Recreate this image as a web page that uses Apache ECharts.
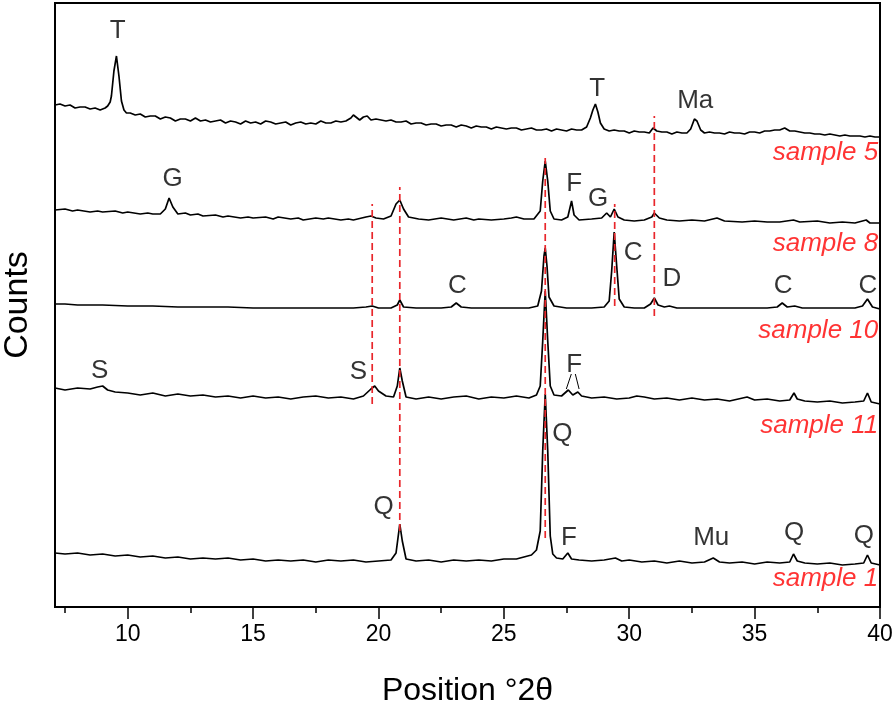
<!DOCTYPE html>
<html><head><meta charset="utf-8">
<script src="https://cdn.jsdelivr.net/npm/echarts@6/dist/echarts.min.js"></script>
<style>html,body{margin:0;padding:0;background:#fff}#c{width:896px;height:707px}</style>
</head><body><div id="c"></div>
<script>
// 2θ (degrees), offset counts (arbitrary units, stacked patterns)
const sample5 = [[7.1,502],[7.3,503],[7.5,501],[7.7,502],[7.9,499],[8.1,500],[8.3,500],[8.5,498],[8.7,499],[8.9,497],[9.1,499],[9.2,501],[9.3,505],[9.35,511],[9.45,536],[9.55,551],[9.65,531],[9.75,506],[9.85,497],[9.95,494],[10.1,494],[10.3,492],[10.5,493],[10.7,490],[10.9,491],[11.1,491],[11.3,488],[11.5,490],[11.7,489],[11.9,486],[12.1,488],[12.3,488],[12.5,486],[12.7,489],[12.9,486],[13.1,487],[13.3,485],[13.5,486],[13.7,487],[13.9,484],[14.1,486],[14.3,485],[14.5,483],[14.7,486],[14.9,484],[15.1,485],[15.3,483],[15.5,486],[15.7,485],[15.9,483],[16.1,484],[16.3,485],[16.5,482],[16.7,484],[16.9,485],[17.1,483],[17.3,484],[17.5,483],[17.7,486],[17.9,484],[18.1,484],[18.3,486],[18.5,485],[18.7,486],[18.9,489],[19.0,492],[19.1,490],[19.25,487],[19.4,490],[19.55,491],[19.7,487],[19.9,488],[20.1,487],[20.3,486],[20.5,487],[20.7,485],[20.9,485],[21.1,486],[21.3,483],[21.5,484],[21.7,484],[21.9,482],[22.1,483],[22.3,483],[22.5,481],[22.7,482],[22.9,482],[23.1,480],[23.3,482],[23.5,481],[23.7,479],[23.9,481],[24.1,480],[24.3,480],[24.5,478],[24.7,480],[24.9,479],[25.1,478],[25.3,479],[25.5,479],[25.7,477],[25.9,478],[26.1,479],[26.3,477],[26.5,477],[26.7,478],[26.9,476],[27.1,478],[27.3,477],[27.5,476],[27.7,478],[27.9,477],[28.1,477],[28.3,480],[28.45,489],[28.55,497],[28.65,503],[28.75,495],[28.85,484],[29.0,478],[29.2,476],[29.4,477],[29.6,476],[29.8,476],[30.0,474],[30.2,476],[30.4,475],[30.6,475],[30.8,474],[30.95,479],[31.1,476],[31.3,475],[31.5,475],[31.7,473],[31.9,475],[32.1,474],[32.3,474],[32.45,478],[32.6,488],[32.7,486],[32.85,477],[33.0,474],[33.2,475],[33.4,474],[33.6,474],[33.8,473],[34.0,475],[34.2,474],[34.4,474],[34.6,473],[34.8,475],[35.0,475],[35.2,474],[35.4,476],[35.6,476],[35.8,477],[36.0,477],[36.2,479],[36.4,476],[36.6,476],[36.8,475],[37.0,474],[37.2,474],[37.4,473],[37.6,473],[37.8,472],[38.0,473],[38.2,472],[38.4,471],[38.6,472],[38.8,471],[39.0,471],[39.2,471],[39.4,470],[39.6,471],[39.8,470],[40.0,470]];
const sample8 = [[7.1,397],[7.5,398],[7.8,396],[8,397],[8.5,395],[8.8,396],[9,395],[9.5,396],[9.8,394],[10,395],[10.5,393],[10.8,394],[11,393],[11.3,393],[11.5,398],[11.65,409],[11.8,400],[12,393],[12.3,394],[12.5,392],[12.8,393],[13,391],[13.5,392],[13.8,390],[14,391],[14.5,389],[14.8,390],[15,389],[15.5,390],[15.8,388],[16,390],[16.5,388],[16.8,389],[17,387],[17.5,389],[17.8,388],[18,389],[18.5,387],[18.8,388],[19,387],[19.5,390],[19.7,391],[19.9,389],[20.2,388],[20.5,391],[20.7,403],[20.85,407],[21.0,398],[21.2,390],[21.6,388],[22,387],[22.5,389],[23,387],[23.5,389],[23.8,387],[24,388],[24.5,387],[25,388],[25.3,389],[25.5,390],[25.8,388],[26.2,388],[26.45,396],[26.55,426],[26.65,446],[26.75,426],[26.85,396],[27.0,388],[27.3,387],[27.55,390],[27.7,406],[27.8,392],[28,387],[28.5,388],[28.9,389],[29.1,394],[29.25,390],[29.4,398],[29.55,390],[29.8,387],[30.2,386],[30.6,387],[30.9,390],[31.0,394],[31.2,389],[31.5,387],[32,386],[32.5,387],[33,386],[33.5,389],[33.8,386],[34.5,385],[35,386],[35.5,385],[36,385],[36.55,387],[36.8,385],[37.5,386],[38,384],[38.5,385],[39,384],[39.45,387],[39.6,384],[40,384]];
const sample10 = [[7.1,303],[7.5,303],[8,302],[9,302],[10,301],[11,301],[12,300],[13,300],[14,300],[15,299],[16,299],[17,299],[18,299],[19,299],[19.5,300],[19.75,301],[20,299],[20.5,299],[20.75,302],[20.85,307],[21.0,300],[21.5,299],[22,299],[22.5,299],[22.9,300],[23.1,304],[23.3,300],[23.7,299],[24.5,299],[25,299],[25.5,299],[26,299],[26.35,301],[26.5,316],[26.6,351],[26.65,359],[26.72,341],[26.8,310],[27.0,301],[27.5,299],[28,299],[28.5,299],[29,300],[29.2,306],[29.3,336],[29.4,375],[29.5,341],[29.6,308],[29.8,300],[30.2,299],[30.6,299],[30.85,303],[31.0,309],[31.15,302],[31.4,300],[31.6,301],[31.9,299],[32.5,299],[33,299],[33.5,299],[34,299],[34.5,299],[35,299],[35.5,299],[35.9,300],[36.1,304],[36.3,300],[36.6,301],[36.9,299],[37.5,299],[38,299],[38.5,299],[39,299],[39.3,301],[39.5,308],[39.7,300],[40,298]];
const sample11 = [[7.1,219],[7.5,217],[8,219],[8.5,218],[8.8,220],[9.0,221],[9.2,217],[9.5,215],[10,214],[10.5,212],[11,214],[11.5,211],[12,213],[12.5,211],[13,212],[13.5,210],[14,211],[14.5,209],[15,211],[15.5,209],[16,210],[16.5,208],[17,210],[17.5,211],[18,209],[18.5,210],[19,208],[19.4,211],[19.7,218],[19.85,221],[20.0,216],[20.3,211],[20.6,210],[20.75,221],[20.85,239],[20.95,226],[21.1,210],[21.5,208],[22,210],[22.5,208],[23,210],[23.5,211],[24,208],[24.5,210],[25,209],[25.5,211],[26,209],[26.3,212],[26.45,221],[26.55,266],[26.65,316],[26.75,266],[26.85,221],[27.0,212],[27.3,211],[27.57,217],[27.75,212],[27.95,215],[28.1,211],[28.5,209],[29,210],[29.5,208],[30,209],[30.3,211],[30.6,210],[31,208],[31.5,209],[32,207],[32.5,209],[33,207],[33.5,208],[34,206],[34.7,210],[35,207],[35.5,208],[36,206],[36.4,207],[36.57,214],[36.7,208],[37,206],[37.5,205],[38,206],[38.5,204],[39,205],[39.35,206],[39.5,214],[39.65,205],[40,203]];
const sample1 = [[7.1,54],[7.5,53],[8,54],[8.5,52],[9,53],[9.5,51],[10,52],[10.5,50],[11,51],[11.5,49],[12,50],[12.5,48],[13,49],[13.5,48],[14,49],[14.5,47],[15,48],[15.5,46],[16,47],[16.5,46],[17,47],[17.5,45],[18,47],[18.5,46],[19,47],[19.5,45],[20,46],[20.5,47],[20.7,54],[20.85,83],[20.95,66],[21.1,48],[21.5,46],[22,47],[22.5,45],[23,47],[23.5,46],[24,47],[24.5,46],[25,48],[25.5,48],[25.8,50],[26.1,52],[26.3,57],[26.45,76],[26.55,156],[26.65,213],[26.75,156],[26.85,71],[26.95,53],[27.1,49],[27.35,48],[27.55,54],[27.7,48],[28,47],[28.5,46],[29,47],[29.45,49],[29.7,46],[30,47],[30.5,45],[31,46],[31.5,44],[32,46],[32.5,44],[33,45],[33.35,49],[33.6,45],[34,44],[34.5,45],[35,43],[35.5,45],[36,44],[36.4,45],[36.55,53],[36.7,46],[37,44],[37.5,43],[38,44],[38.5,42],[39,43],[39.35,44],[39.5,52],[39.65,44],[40,42]];

const sampleNames = ['sample 5','sample 8','sample 10','sample 11','sample 1'];
const sampleLabelY = [454, 363, 276, 181, 28];

const peakLabelText = ['T','T','Ma','G','F','G','C','D','C','C','C','S','S','F','Q','Q','F','Mu','Q','Q'];
const peakLabelX = [9.6,28.72,32.63,11.79,27.8,28.76,30.16,31.7,23.15,36.14,39.52,8.88,19.2,27.8,27.33,20.2,27.6,33.27,36.57,39.36];
const peakLabelY = [576,518,506,428,423,408,354,328,321,321,321,236,235,242,173,100,69,69,74,71];

const refLinePos = [19.75, 20.85, 26.65, 29.42, 31.0];
const refLineTop = [403, 420, 449, 403, 491];
const refLineBottom = [203, 76, 69, 301, 291];

const fConnectorA = [[27.69,233],[27.49,218]];
const fConnectorB = [[27.85,233],[28.0,218]];

const majorTicks = [10,15,20,25,30,35,40];
const minorTicks = [7.5,12.5,17.5,22.5,27.5,32.5,37.5];

const FONT = 'Liberation Sans, Arial, sans-serif';
const chart = echarts.init(document.getElementById('c'));
const patterns = [sample5, sample8, sample10, sample11, sample1];
const series = [];
patterns.forEach((d, i) => series.push({
  type: 'line', name: sampleNames[i], data: d, showSymbol: false, symbol: 'none',
  lineStyle: {color: '#000', width: 1.7}, silent: true, z: 2
}));
refLinePos.forEach((x, i) => series.push({
  type: 'line', data: [[x, refLineBottom[i]], [x, refLineTop[i]]], symbol: 'none', silent: true, z: 3,
  lineStyle: {color: '#e8262b', width: 1.7, type: [7, 4]}
}));
[fConnectorA, fConnectorB].forEach(d => series.push({
  type: 'line', data: d, symbol: 'none', silent: true, z: 2, lineStyle: {color: '#000', width: 1}
}));
series.push({
  type: 'scatter', symbolSize: 0, silent: true, z: 4,
  data: peakLabelText.map((t, i) => ({name: t, value: [peakLabelX[i], peakLabelY[i]]})),
  label: {show: true, position: 'inside', formatter: '{b}', color: '#000', fontSize: 26, fontFamily: FONT}
});
series.push({
  type: 'scatter', symbolSize: 0, silent: true, z: 4,
  data: sampleNames.map((t, i) => ({name: t, value: [39.93, sampleLabelY[i]]})),
  label: {show: true, position: 'left', distance: 0, formatter: '{b}', color: '#ff0000', fontSize: 26, fontStyle: 'italic', fontFamily: FONT}
});

chart.setOption({
  animation: false,
  backgroundColor: '#fff',
  grid: {left: 55, right: 16, top: 3, bottom: 100, show: true, borderColor: '#000', borderWidth: 2, backgroundColor: 'transparent', outerBoundsMode: 'none', containLabel: false},
  xAxis: [{
    type: 'value', min: 7.1, max: 40,
    name: 'Position °2θ', nameLocation: 'middle', nameGap: 68,
    nameTextStyle: {fontSize: 32, color: '#000', fontFamily: FONT},
    axisLine: {show: true, lineStyle: {color: '#000', width: 2}},
    axisTick: {show: true, customValues: majorTicks, length: 12, lineStyle: {color: '#000', width: 1.5}},
    axisLabel: {customValues: majorTicks, fontSize: 23, color: '#000', margin: 16, fontFamily: FONT},
    splitLine: {show: false}
  }, {
    type: 'value', min: 7.1, max: 40, position: 'bottom',
    axisLine: {show: false},
    axisTick: {show: true, customValues: minorTicks, length: 6, lineStyle: {color: '#000', width: 1.5}},
    axisLabel: {show: false},
    splitLine: {show: false}
  }],
  yAxis: {
    type: 'value', min: 0, max: 604,
    name: 'Counts', nameLocation: 'middle', nameGap: 20,
    nameTextStyle: {fontSize: 34, color: '#000', fontFamily: FONT},
    axisLine: {show: true, lineStyle: {color: '#000', width: 2}},
    axisTick: {show: false}, axisLabel: {show: false}, splitLine: {show: false}
  },
  series: series
});
</script></body></html>
